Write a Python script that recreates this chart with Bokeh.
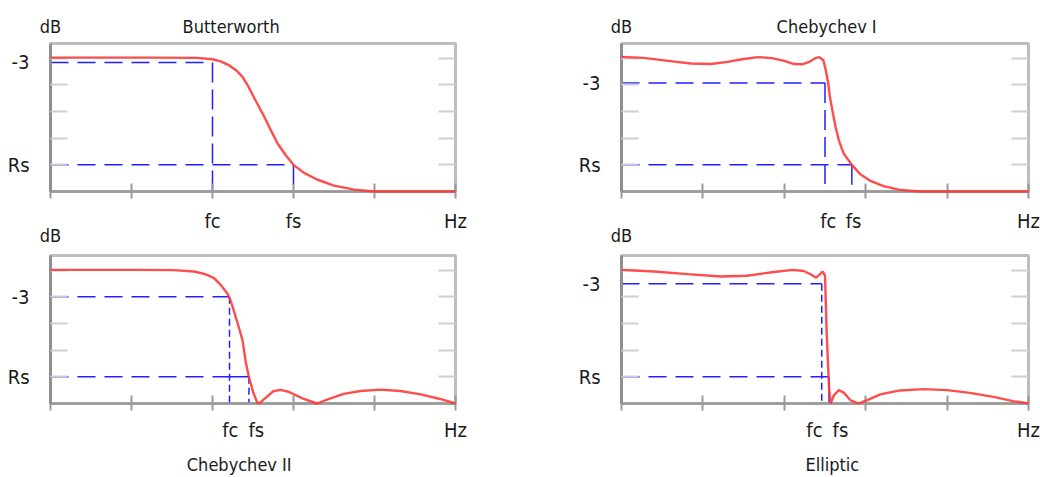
from bokeh.plotting import figure
from bokeh.layouts import gridplot
from bokeh.models import Range1d, FixedTicker, LinearAxis
from bokeh.embed import file_html
from bokeh.resources import INLINE

FONT = "DejaVu Sans Condensed"

# ---------------- data (normalised: x in divisions, y in divisions) ----------------
titles = ["Butterworth", "Chebychev I", "Chebychev II", "Elliptic"]

bw_x = [0, 1.23, 1.81, 2.0, 2.10, 2.20, 2.29, 2.37, 2.44, 2.53, 2.63, 2.72, 2.80, 2.90,
        3.0, 3.13, 3.29, 3.50, 3.75, 4.0, 5.0]
bw_y = [5.02, 5.02, 5.01, 4.96, 4.88, 4.74, 4.55, 4.30, 3.95, 3.42, 2.86, 2.30, 1.82, 1.38,
        1.0, 0.70, 0.45, 0.22, 0.07, 0.0, 0.0]

c1_x = [0, 0.27, 0.6, 0.85, 1.1, 1.3, 1.5, 1.68, 1.85, 2.0, 2.12, 2.22, 2.3, 2.38, 2.43,
        2.48, 2.51, 2.54, 2.56, 2.59, 2.63, 2.67, 2.73, 2.83, 2.93, 3.05, 3.22, 3.42, 3.67, 5.0]
c1_y = [5.05, 5.01, 4.89, 4.80, 4.78, 4.86, 4.97, 5.04, 5.0, 4.9, 4.78, 4.77, 4.85, 5.0, 5.04,
        4.92, 4.55, 4.05, 3.55, 3.05, 2.42, 1.92, 1.42, 1.0, 0.66, 0.41, 0.2, 0.06, 0.0, 0.0]

c2_x = [0, 1.03, 1.52, 1.77, 1.91, 2.02, 2.10, 2.18, 2.22, 2.26, 2.31, 2.37, 2.41, 2.45,
        2.50, 2.55, 2.58, 2.62, 2.67, 2.75, 2.84, 2.94, 3.11, 3.29, 3.44, 3.62, 3.83, 4.07,
        4.32, 4.57, 4.81, 5.0]
c2_y = [5.01, 5.01, 5.0, 4.95, 4.85, 4.70, 4.45, 4.14, 3.89, 3.51, 3.01, 2.38, 1.57, 0.98,
        0.44, 0.05, 0.0, 0.12, 0.25, 0.46, 0.51, 0.44, 0.19, 0.0, 0.17, 0.36, 0.47, 0.52,
        0.47, 0.34, 0.17, 0.0]

el_x = [0, 0.40, 0.81, 1.22, 1.54, 1.87, 2.11, 2.24, 2.34, 2.39, 2.44, 2.47, 2.50, 2.52,
        2.55, 2.57, 2.61, 2.67, 2.73, 2.81, 2.91, 3.02, 3.18, 3.42, 3.71, 4.0, 4.28, 4.57,
        4.81, 5.0]
el_y = [5.01, 4.95, 4.85, 4.76, 4.79, 4.93, 5.01, 4.97, 4.82, 4.72, 4.85, 4.95, 4.80, 2.70,
        0.57, 0.0, 0.31, 0.50, 0.41, 0.13, 0.0, 0.13, 0.34, 0.49, 0.54, 0.50, 0.40, 0.25,
        0.09, 0.0]

curves_x = [bw_x, c1_x, c2_x, el_x]
curves_y = [bw_y, c1_y, c2_y, el_y]

fc = [2.0, 2.50, 2.21, 2.46]          # cut-off frequency position
fs = [3.0, 2.83, 2.45, 2.55]          # stop-band frequency position
y_3db = [4.84, 4.07, 4.0, 4.49]       # -3 dB level
y_rs = [1.0, 1.0, 1.0, 1.0]           # Rs level
fc_label_x = [2.0, 2.54, 2.22, 2.37]  # where the "fc" label sits
fs_label_x = [3.0, 2.85, 2.54, 2.69]  # where the "fs" label sits

x_div = [0, 1, 2, 3, 4, 5]
y_div = [1, 2, 3, 4, 5]
x_names = ["fc", "fs", "Hz"]
y_names = ["-3", "Rs"]
unit_name = "dB"

# ---------------- styling / layout ----------------
Y_TOP = 5.55
RED = "#ff3838"
BLUE = "#1f1fff"
TXT = "#1a1a1a"
title_x = [2.23, 2.52, 2.33, 2.59]


def text_axis(ticks, names, size, standoff):
    ax = LinearAxis(ticker=FixedTicker(ticks=ticks, minor_ticks=[]))
    ax.major_label_overrides = dict(zip(ticks, names))
    ax.major_tick_line_color = None
    ax.minor_tick_line_color = None
    ax.major_tick_in = 0
    ax.major_tick_out = 0
    ax.minor_tick_in = 0
    ax.minor_tick_out = 0
    ax.axis_line_color = None
    ax.major_label_standoff = standoff
    ax.major_label_text_font = FONT
    ax.major_label_text_font_size = size
    ax.major_label_text_color = TXT
    return ax


def make_panel(i, width, height, mbl, mbr, mbt, mbb, top_row, vdash, x_standoff):
    p = figure(width=width, height=height, x_range=Range1d(0, 5), y_range=Range1d(0, Y_TOP),
               toolbar_location=None, output_backend="svg", tools="",
               min_border_left=mbl, min_border_right=mbr,
               min_border_top=mbt, min_border_bottom=mbb)
    p.xgrid.visible = False
    p.ygrid.visible = False
    p.outline_line_color = "#bdbdbd"
    p.outline_line_width = 3
    p.background_fill_color = "white"
    p.border_fill_color = "white"

    # bottom axis: labels at fc / fs / Hz, tick marks on each division
    xa = p.xaxis[0]
    xa.ticker = FixedTicker(ticks=[fc_label_x[i], fs_label_x[i], x_div[-1]], minor_ticks=x_div)
    xa.major_label_overrides = {fc_label_x[i]: x_names[0], fs_label_x[i]: x_names[1],
                                x_div[-1]: x_names[2]}
    xa.major_tick_line_color = None
    xa.major_tick_in = 0
    xa.major_tick_out = 0
    xa.minor_tick_line_color = "#9a9a9a"
    xa.minor_tick_line_width = 2
    xa.minor_tick_in = 8
    xa.minor_tick_out = 7
    xa.axis_line_color = "#9a9a9a"
    xa.axis_line_width = 2.5
    xa.major_label_standoff = x_standoff
    xa.major_label_text_font = FONT
    xa.major_label_text_font_size = "20px"
    xa.major_label_text_color = TXT

    # left axis: labels -3 / Rs, light ticks inside
    ya = p.yaxis[0]
    ya.ticker = FixedTicker(ticks=[y_3db[i], y_rs[i]], minor_ticks=y_div)
    ya.major_label_overrides = {y_3db[i]: y_names[0], y_rs[i]: y_names[1]}
    ya.major_tick_line_color = None
    ya.major_tick_in = 0
    ya.major_tick_out = 0
    ya.minor_tick_line_color = "#cfcfcf"
    ya.minor_tick_line_width = 2
    ya.minor_tick_in = 17
    ya.minor_tick_out = 0
    ya.axis_line_color = "#8f8f8f"
    ya.axis_line_width = 3
    ya.major_label_standoff = 21
    ya.major_label_text_font = FONT
    ya.major_label_text_font_size = "20px"
    ya.major_label_text_color = TXT

    # right axis: ticks only
    ra = LinearAxis(ticker=FixedTicker(ticks=[], minor_ticks=y_div))
    ra.major_tick_line_color = None
    ra.major_tick_in = 0
    ra.major_tick_out = 0
    ra.minor_tick_line_color = "#cfcfcf"
    ra.minor_tick_line_width = 2
    ra.minor_tick_in = 17
    ra.minor_tick_out = 0
    ra.axis_line_color = None
    ra.major_label_standoff = 0
    ra.major_label_text_font_size = "0px"
    p.add_layout(ra, "right")

    # unit labels and titles
    if top_row:
        p.add_layout(text_axis([0, title_x[i]], [unit_name, titles[i]], "18px", 7), "above")
        # the "dB" of the panel underneath sits in this canvas (tight vertical space)
        p.add_layout(text_axis([0], [unit_name], "18px", -11), "below")
    else:
        p.add_layout(text_axis([title_x[i]], [titles[i]], "18px", 9), "below")

    # guide lines
    hd = "18 9"
    p.line([0, fc[i]], [y_3db[i], y_3db[i]], line_color=BLUE, line_width=1.5, line_dash=hd)
    p.line([fc[i], fc[i]], [y_3db[i], 0], line_color=BLUE, line_width=1.5, line_dash=vdash)
    if top_row:
        p.line([0, fs[i]], [y_rs[i], y_rs[i]], line_color=BLUE, line_width=1.5, line_dash=hd)
    else:
        p.line([0, fc[i]], [y_rs[i], y_rs[i]], line_color=BLUE, line_width=1.5, line_dash=hd)
        p.line([fc[i], fs[i]], [y_rs[i], y_rs[i]], line_color=BLUE, line_width=1.5)
    fs_dash = "solid" if i == 3 else vdash
    p.line([fs[i], fs[i]], [y_rs[i], 0], line_color=BLUE, line_width=1.5, line_dash=fs_dash)

    # response curve
    p.line(curves_x[i], curves_y[i], line_color=RED, line_width=2.4, line_alpha=0.9,
           level="overlay")
    return p


p1 = make_panel(0, 552, 248, 50, 97, 43, 57, True, "20 7", 10)
p2 = make_panel(1, 488, 248, 69, 12, 43, 57, True, "20 7", 10)
p3 = make_panel(2, 552, 229, 50, 97, 7, 74, False, "7 4", 7)
p4 = make_panel(3, 488, 229, 69, 12, 7, 74, False, "7 4", 7)

grid = gridplot([[p1, p2], [p3, p4]], toolbar_location=None)

open("out.html", "w").write(file_html(grid, INLINE))
